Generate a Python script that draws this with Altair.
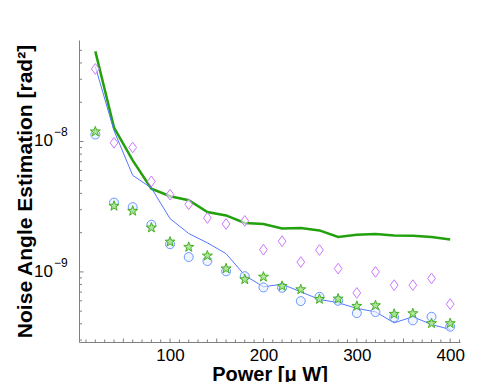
import altair as alt
import numpy as np
import pandas as pd

# ---- data ----
power = [20, 40, 60, 80, 100, 120, 140, 160, 180, 200,
         220, 240, 260, 280, 300, 320, 340, 360, 380, 400]

green_line = [4.91e-8, 1.28e-8, 7.16e-9, 4.35e-9, 3.80e-9, 3.54e-9, 2.88e-9, 2.71e-9, 2.37e-9, 2.33e-9,
              2.15e-9, 2.17e-9, 2.08e-9, 1.85e-9, 1.93e-9, 1.95e-9, 1.90e-9, 1.89e-9, 1.85e-9, 1.77e-9]
blue_line = [3.75e-8, 1.21e-8, 5.50e-9, 4.40e-9, 2.56e-9, 1.97e-9, 1.67e-9, 1.38e-9, 9.40e-10, 7.68e-10,
             8.05e-10, 7.03e-10, 6.15e-10, 5.80e-10, 5.25e-10, 4.94e-10, 4.07e-10, 4.53e-10, 3.95e-10, 3.62e-10]
blue_circles = [1.13e-8, 3.40e-9, 3.14e-9, 2.30e-9, 1.63e-9, 1.30e-9, 1.21e-9, 1.01e-9, 9.27e-10, 7.60e-10,
                7.55e-10, 5.97e-10, 6.44e-10, 6.00e-10, 4.83e-10, 4.92e-10, 4.48e-10, 4.25e-10, 4.53e-10, 3.80e-10]
green_stars = [1.19e-8, 3.20e-9, 2.93e-9, 2.18e-9, 1.70e-9, 1.55e-9, 1.33e-9, 1.06e-9, 8.75e-10, 9.16e-10,
               7.78e-10, 7.33e-10, 6.18e-10, 6.22e-10, 5.47e-10, 5.53e-10, 4.75e-10, 4.80e-10, 4.03e-10, 4.03e-10]
purple_diamonds = [3.60e-8, 9.77e-9, 9.00e-9, 4.94e-9, 3.91e-9, 3.30e-9, 2.59e-9, 2.33e-9, 2.46e-9, 1.48e-9,
                   1.72e-9, 1.19e-9, 1.47e-9, 1.06e-9, 6.90e-10, 1.00e-9, 7.91e-10, 7.91e-10, 8.90e-10, 5.66e-10]

x_labels = [100, 200, 300, 400]
x_minor_ticks = list(range(10, 411, 10))
y_major_ticks = [1e-9, 1e-8]
y_major_exp = ["\u22129", "\u22128"]
y_minor_ticks = [3e-10, 4e-10, 5e-10, 6e-10, 7e-10, 8e-10, 9e-10,
                 2e-9, 3e-9, 4e-9, 5e-9, 6e-9, 7e-9, 8e-9, 9e-9,
                 2e-8, 3e-8, 4e-8, 5e-8]

FONT = "Liberation Sans, Arial, Helvetica, sans-serif"
GREY = "#808080"
W, H = 381, 302

xscale = alt.Scale(domain=[2.5, 410.5], nice=False, zero=False)
yscale = alt.Scale(type="log", domain=[2.9e-10, 6e-8], nice=False)

df = pd.DataFrame({
    "p": power, "g": green_line, "b": blue_line,
    "c": blue_circles, "s": green_stars, "d": purple_diamonds,
})

# star path (unit box)
ang_o = np.deg2rad(-90 + 72 * np.arange(5))
ang_i = np.deg2rad(-54 + 72 * np.arange(5))
pts = []
for k in range(5):
    pts.append((np.cos(ang_o[k]), np.sin(ang_o[k])))
    pts.append((0.4 * np.cos(ang_i[k]), 0.4 * np.sin(ang_i[k])))
star_path = "M" + " L".join(f"{x:.3f},{y:.3f}" for x, y in pts) + " Z"
diamond_path = "M0,-1 L0.72,0 L0,1 L-0.72,0 Z"

x_axis = alt.Axis(values=x_labels, ticks=False, grid=False, domainColor=GREY,
                  labelFontSize=17, labelFont=FONT, labelColor="black", labelPadding=5,
                  title="Power [\u03bc W]", titleFont=FONT, titleFontSize=20,
                  titleFontWeight="bold", titleColor="black",
                  titleBaseline="alphabetic", titleY=38)
y_axis = alt.Axis(labels=False, ticks=False, grid=False, domainColor=GREY,
                  title="Noise Angle Estimation [rad\u00b2]", titleFont=FONT,
                  titleFontSize=21, titleFontWeight="bold", titleColor="black",
                  titleAngle=-90, titleBaseline="alphabetic", titleX=-48, titleY=151,
                  titleAlign="center")


def X(field):
    return alt.X(field, scale=xscale, axis=x_axis)


def Y(field):
    return alt.Y(field, scale=yscale, axis=y_axis)


base = alt.Chart(df)

green = base.mark_line(color="#22a00e", strokeWidth=2.5, clip=True).encode(
    x=X("p:Q"), y=Y("g:Q"))
blue = base.mark_line(color="#5577ff", strokeWidth=1, clip=True).encode(
    x=X("p:Q"), y=Y("b:Q"))
diamonds = base.mark_point(shape=diamond_path, size=115, stroke="#cc77ff",
                           filled=False, strokeWidth=1, fill="white", fillOpacity=0.6,
                           opacity=1).encode(x=X("p:Q"), y=Y("d:Q"))
circles = base.mark_point(shape="circle", size=80, stroke="#6b98ff",
                          filled=False, strokeWidth=1, fill="#e8efff", fillOpacity=0.6,
                          opacity=1).encode(x=X("p:Q"), y=Y("c:Q"))
stars = base.mark_point(shape=star_path, size=110, stroke="#44b022",
                        filled=False, strokeWidth=1, fill="#a6e38e", fillOpacity=0.9,
                        opacity=1).encode(x=X("p:Q"), y=Y("s:Q"))

# inward ticks
xt = pd.DataFrame({"v": x_minor_ticks})
xt["major"] = [v % 50 == 0 for v in x_minor_ticks]
xticks_minor = alt.Chart(xt[~xt["major"]]).mark_rule(color=GREY, strokeWidth=1).encode(
    x=X("v:Q"), y=alt.value(H), y2=alt.value(H - 2.5))
xticks_major = alt.Chart(xt[xt["major"]]).mark_rule(color=GREY, strokeWidth=1).encode(
    x=X("v:Q"), y=alt.value(H), y2=alt.value(H - 3.5))
yticks_minor = alt.Chart(pd.DataFrame({"v": y_minor_ticks})).mark_rule(color=GREY, strokeWidth=1).encode(
    y=Y("v:Q"), x=alt.value(0), x2=alt.value(3))
ymaj = pd.DataFrame({"v": y_major_ticks, "e": y_major_exp})
yticks_major = alt.Chart(ymaj).mark_rule(color=GREY, strokeWidth=1).encode(
    y=Y("v:Q"), x=alt.value(0), x2=alt.value(4.5))
ylab_base = alt.Chart(ymaj).mark_text(text="10", font=FONT, fontSize=17, align="right",
                                      baseline="middle", dx=-26, color="black").encode(
    y=Y("v:Q"), x=alt.value(0))
ylab_exp = alt.Chart(ymaj).mark_text(font=FONT, fontSize=12, align="left",
                                     baseline="middle", dx=-25, dy=-9, color="black").encode(
    y=Y("v:Q"), x=alt.value(0), text="e:N")

chart = alt.layer(
    green, blue, xticks_minor, xticks_major, yticks_minor, yticks_major,
    ylab_base, ylab_exp, diamonds, circles, stars,
).properties(
    width=W, height=H,
    background="white",
    autosize=alt.AutoSizeParams(type="none"),
    padding={"left": 71, "top": 32, "right": 28, "bottom": 40},
).configure_view(stroke=None)

chart.save("out.html", embed_options={"renderer": "svg", "actions": False})
